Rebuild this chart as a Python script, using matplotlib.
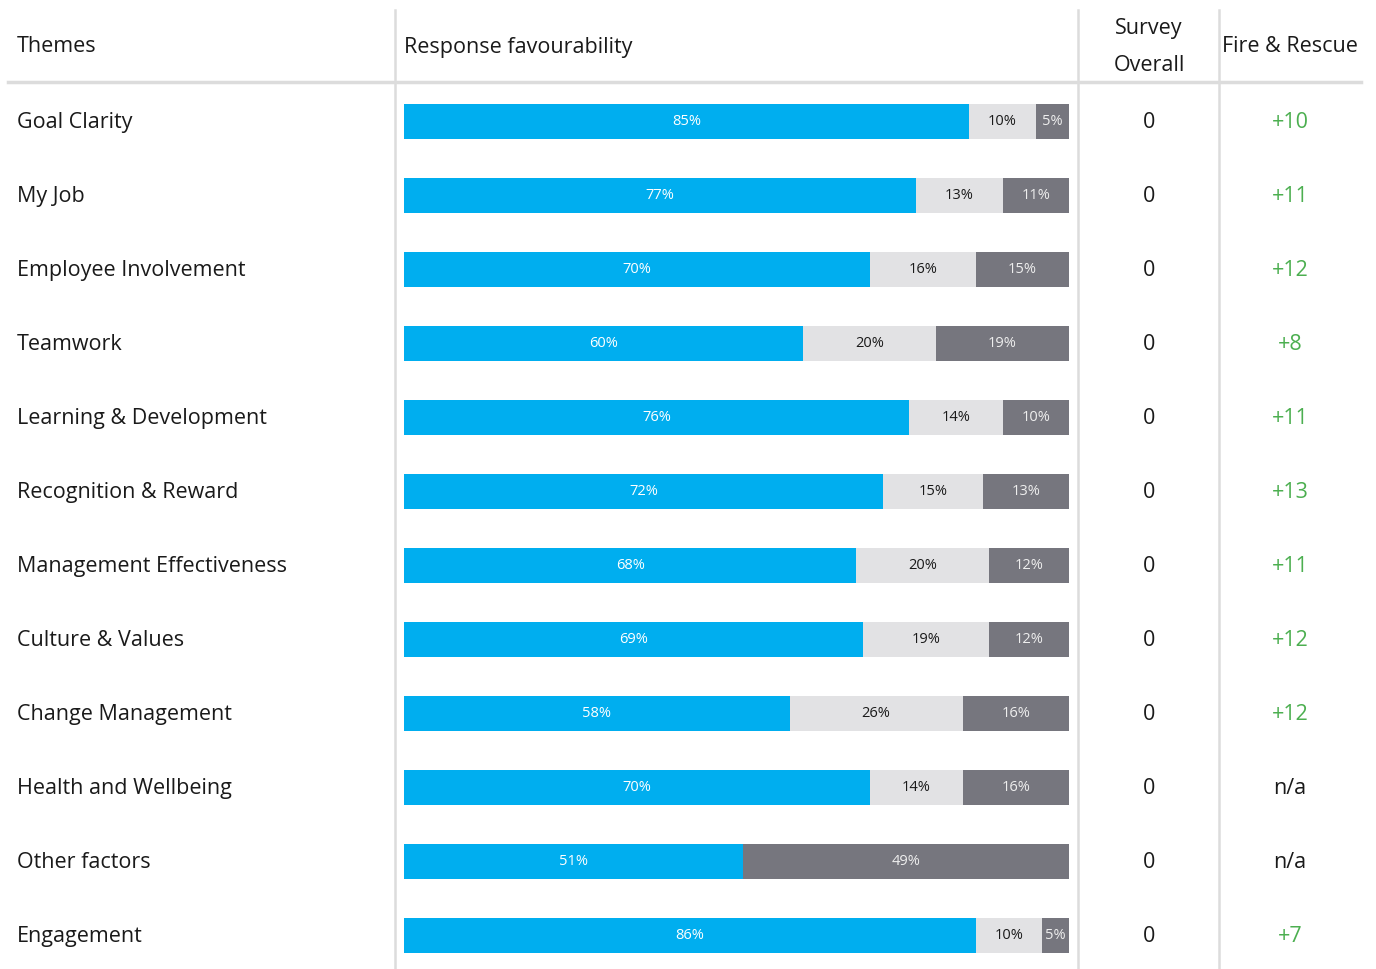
import matplotlib
matplotlib.use("Agg")
import matplotlib.pyplot as plt
import matplotlib.transforms as mtransforms
import numpy as np

plt.rcParams["font.family"] = ["Open Sans", "DejaVu Sans"]

themes = [
    "Goal Clarity",
    "My Job",
    "Employee Involvement",
    "Teamwork",
    "Learning & Development",
    "Recognition & Reward",
    "Management Effectiveness",
    "Culture & Values",
    "Change Management",
    "Health and Wellbeing",
    "Other factors",
    "Engagement",
]
favourable = [85, 77, 70, 60, 76, 72, 68, 69, 58, 70, 51, 86]
neutral = [10, 13, 16, 20, 14, 15, 20, 19, 26, 14, 0, 10]
unfavourable = [5, 11, 15, 19, 10, 13, 12, 12, 16, 16, 49, 5]
survey_overall = ["0"] * 12
fire_rescue = ["+10", "+11", "+12", "+8", "+11", "+13", "+11", "+12", "+12", "n/a", "n/a", "+7"]

BLUE = "#00aeef"
LIGHT = "#e2e2e4"
DARK = "#76767e"
GREEN = "#4caf50"
TEXT = "#1a1a1a"
RULE = "#dcdcdc"
FS = 15.5

W, H = 1376, 969
fig = plt.figure(figsize=(W / 100, H / 100), dpi=100)

# bar axes spans full height; rows are placed via ylim
row0, step = 121.5, 74.0
ax = fig.add_axes([404 / W, 0, 665 / W, 1])
ax.set_xlim(0, 100)
ax.set_ylim((H - row0) / step, -row0 / step)
ax.axis("off")

y = np.arange(len(themes))
fav = np.array(favourable)
neu = np.array(neutral)
unf = np.array(unfavourable)
bh = 35 / step

ax.barh(y, fav, height=bh, color=BLUE)
ax.barh(y, neu, left=fav, height=bh, color=LIGHT)
# last segment fills the remainder of the row
ax.barh(y, 100 - fav - neu, left=fav + neu, height=bh, color=DARK)

for i in range(len(themes)):
    ax.text(fav[i] / 2, i, f"{fav[i]}%", ha="center", va="center",
            color="white", fontsize=10.5)
    if neu[i] > 0:
        ax.text(fav[i] + neu[i] / 2, i, f"{neu[i]}%", ha="center", va="center",
                color=TEXT, fontsize=10.5)
    rest = 100 - fav[i] - neu[i]
    ax.text(fav[i] + neu[i] + rest / 2, i, f"{unf[i]}%", ha="center",
            va="center", color="#eeeeee", fontsize=10.5)

tr = mtransforms.blended_transform_factory(fig.transFigure, ax.transData)

def px(x):
    return x / W

def py(p):
    return (p - row0) / step

for i, name in enumerate(themes):
    ax.text(px(17), i + 0.015, name, transform=tr, ha="left", va="center",
            fontsize=FS, color=TEXT, clip_on=False)
    ax.text(px(1149), i + 0.015, survey_overall[i], transform=tr, ha="center",
            va="center", fontsize=FS, color=TEXT, clip_on=False)
    val = fire_rescue[i]
    ax.text(px(1290), i + 0.015, val, transform=tr, ha="center", va="center",
            fontsize=FS, color=TEXT if val == "n/a" else GREEN, clip_on=False)

# header
ax.text(px(17), py(47), "Themes", transform=tr, ha="left", va="center",
        fontsize=FS, color=TEXT, clip_on=False)
ax.text(px(404), py(47), "Response favourability", transform=tr, ha="left",
        va="center", fontsize=FS, color=TEXT, clip_on=False)
ax.text(px(1149), py(47), "Survey\nOverall", transform=tr, ha="center",
        va="center", fontsize=FS, color=TEXT, linespacing=2.0, clip_on=False)
ax.text(px(1290), py(47), "Fire & Rescue", transform=tr, ha="center",
        va="center", fontsize=FS, color=TEXT, clip_on=False)

# rules
ax.plot([px(8), px(1361)], [py(82), py(82)], transform=tr, color=RULE,
        lw=2.5, clip_on=False)
for xv in [395, 1078, 1219]:
    ax.plot([px(xv), px(xv)], [py(10), py(H)], transform=tr, color=RULE,
            lw=1.8, clip_on=False)

fig.savefig("out.png", dpi=100)
